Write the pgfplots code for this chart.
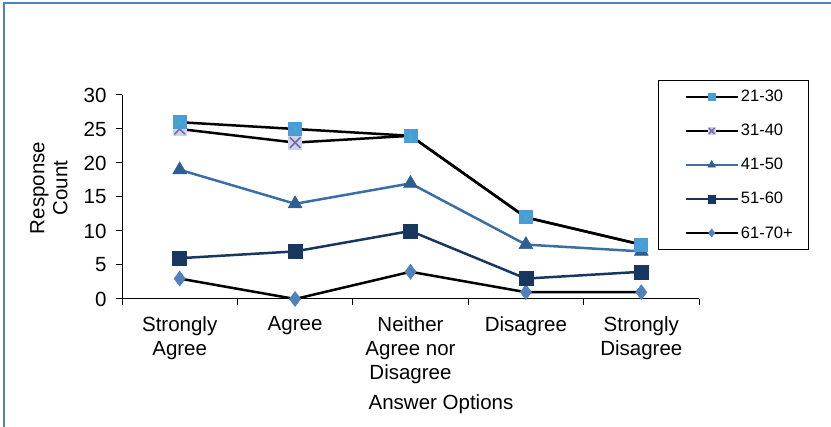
\documentclass[border=0pt]{standalone}
\usepackage{fontspec}
\setmainfont{Liberation Sans}
\usepackage{pgfplots}
\pgfplotsset{compat=1.18}
\definecolor{frame}{HTML}{4F81BD}
\definecolor{cA}{HTML}{4A9BD8}
\definecolor{cAx}{HTML}{3DB0C8}
\definecolor{cB}{HTML}{7F64A6}
\definecolor{xbg}{HTML}{C9D4EF}
\definecolor{cCline}{HTML}{3A6EA5}
\definecolor{cC}{HTML}{2E5F91}
\definecolor{cD}{HTML}{17375E}
\definecolor{cE}{HTML}{4F81BD}
\pgfdeclareplotmark{xbox}{%
  \pgfpathrectangle{\pgfpoint{-\pgfplotmarksize}{-\pgfplotmarksize}}{\pgfpoint{2\pgfplotmarksize}{2\pgfplotmarksize}}%
  \pgfsetfillcolor{xbg}\pgfusepath{fill}%
  \pgfpathmoveto{\pgfpoint{-.75\pgfplotmarksize}{-.75\pgfplotmarksize}}\pgfpathlineto{\pgfpoint{.75\pgfplotmarksize}{.75\pgfplotmarksize}}%
  \pgfpathmoveto{\pgfpoint{-.75\pgfplotmarksize}{.75\pgfplotmarksize}}\pgfpathlineto{\pgfpoint{.75\pgfplotmarksize}{-.75\pgfplotmarksize}}%
  \pgfsetstrokecolor{cB}\pgfusepath{stroke}}
\pgfdeclareplotmark{sqstar}{%
  \pgfpathrectangle{\pgfpoint{-\pgfplotmarksize}{-\pgfplotmarksize}}{\pgfpoint{2\pgfplotmarksize}{2\pgfplotmarksize}}%
  \pgfsetfillcolor{cA}\pgfusepath{fill}%
  \pgfpathmoveto{\pgfpoint{-.8\pgfplotmarksize}{-.8\pgfplotmarksize}}\pgfpathlineto{\pgfpoint{.8\pgfplotmarksize}{.8\pgfplotmarksize}}%
  \pgfpathmoveto{\pgfpoint{-.8\pgfplotmarksize}{.8\pgfplotmarksize}}\pgfpathlineto{\pgfpoint{.8\pgfplotmarksize}{-.8\pgfplotmarksize}}%
  \pgfpathmoveto{\pgfpoint{0pt}{-.8\pgfplotmarksize}}\pgfpathlineto{\pgfpoint{0pt}{.8\pgfplotmarksize}}%
  \pgfsetlinewidth{0.6pt}\pgfsetstrokecolor{cAx}\pgfusepath{stroke}}
\begin{document}
\begin{tikzpicture}[x=1pt,y=1pt]
\draw[color=frame, line width=1.5pt] (4,0) -- (4,424) -- (831,424);
\begin{axis}[
  at={(122pt,128pt)}, anchor=south west,
  scale only axis, width=577pt, height=204pt,
  xmin=-0.5, xmax=4.5, ymin=0, ymax=30,
  axis x line=bottom, axis y line=left,
  axis line style={-, line width=1pt, black},
  xtick={0,...,4},
  xticklabels={{Strongly\\Agree},Agree,{Neither\\Agree nor\\Disagree},Disagree,{Strongly\\Disagree}},
  minor xtick={-0.5,0.5,1.5,2.5,3.5,4.5},
  major x tick style={draw=none},
  minor x tick style={black, line width=1pt},
  ytick={0,5,...,30},
  y tick style={black, line width=1pt},
  tick align=outside,
  major tick length=6pt, minor tick length=6pt,
  x tick label style={align=center, anchor=north, yshift=-8pt, font=\fontsize{20.5}{24}\selectfont},
  y tick label style={font=\fontsize{20.5}{24}\selectfont, xshift=-6pt},
  /pgf/number format/assume math mode=true,
  clip=false,
  reverse legend,
  legend style={at={(axis description cs:0.929,1.0735)}, anchor=north west,
    draw=black, line width=0.8pt, fill=white, font=\fontsize{16.5}{19}\selectfont,
    inner xsep=14pt, inner ysep=8pt, row sep=17pt, cells={anchor=west}},
  legend image code/.code={\path (0pt,0pt); \draw[mark repeat=2,mark phase=2, every mark/.append style={scale=0.55}] plot coordinates {(12pt,0pt) (38pt,0pt) (64pt,0pt)};},
]
\addplot[black, line width=2.5pt, mark=diamond*, mark size=7.5pt, mark options={fill=cE, draw=cE, line width=0.5pt}]
  coordinates {(0,3) (1,0) (2,4) (3,1) (4,1)};
\addlegendentry{61-70+}
\addplot[cD, line width=2.5pt, mark=square*, mark size=7pt, mark options={fill=cD, draw=cD, line width=0.5pt}]
  coordinates {(0,6) (1,7) (2,10) (3,3) (4,4)};
\addlegendentry{51-60}
\addplot[cCline, line width=2.5pt, mark=triangle*, mark size=8pt, mark options={fill=cC, draw=cC, line width=0.5pt}]
  coordinates {(0,19) (1,14) (2,17) (3,8) (4,7)};
\addlegendentry{41-50}
\addplot[black, line width=2.5pt, mark=xbox, mark size=7pt, mark options={line width=1.5pt}]
  coordinates {(0,25) (1,23) (2,24) (3,12) (4,8)};
\addlegendentry{31-40}
\addplot[black, line width=2.5pt, mark=sqstar, mark size=7pt]
  coordinates {(0,26) (1,25) (2,24) (3,12) (4,8)};
\addlegendentry{21-30}
\end{axis}
\node[rotate=90, align=center, font=\fontsize{20.5}{23}\selectfont] at (49,239) {Response\\Count};
\node[font=\fontsize{20.5}{24}\selectfont, anchor=base] at (441,17) {Answer Options};
\pgfresetboundingbox
\useasboundingbox (0,0) rectangle (831,427);
\end{tikzpicture}
\end{document}
